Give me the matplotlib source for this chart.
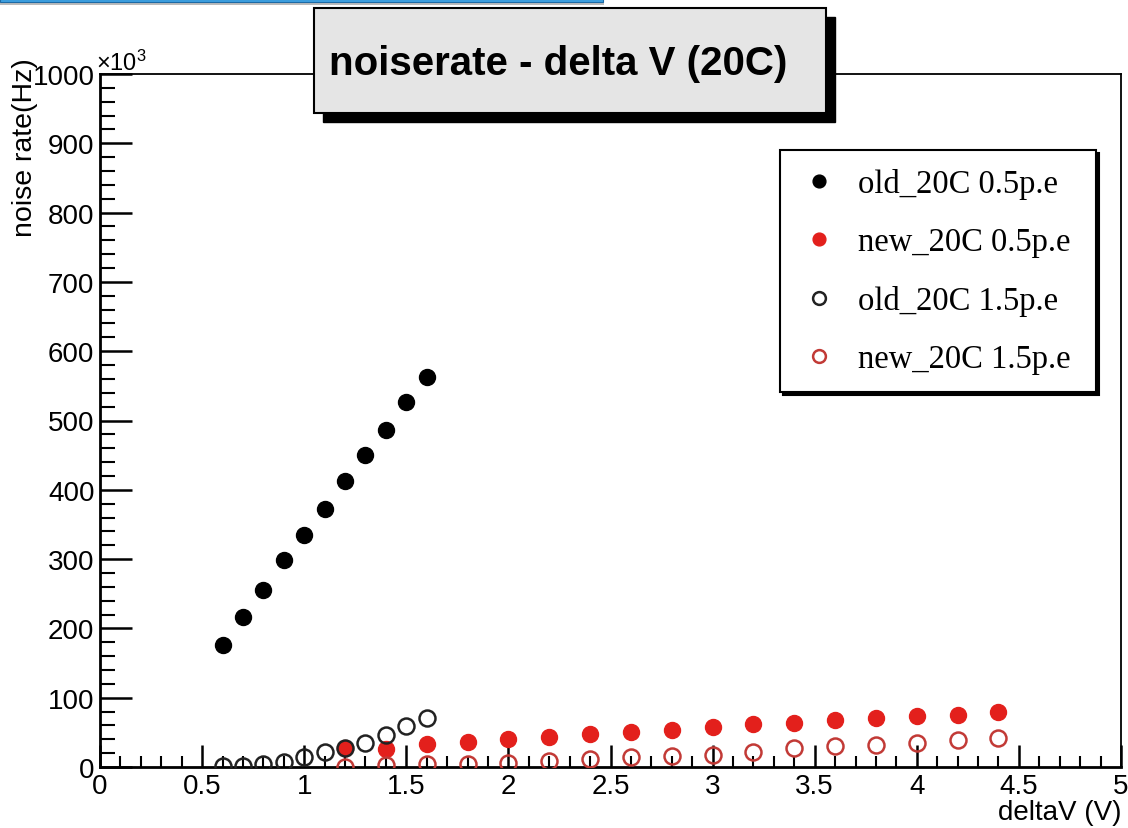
import matplotlib
matplotlib.use("Agg")
import matplotlib.pyplot as plt
from matplotlib.patches import Rectangle
from matplotlib.ticker import MultipleLocator
import numpy as np

# noise rate in units of 10^3 Hz
dv_old = [0.6, 0.7, 0.8, 0.9, 1.0, 1.1, 1.2, 1.3, 1.4, 1.5, 1.6]
old_05 = [176, 216, 256, 298, 335, 372, 412, 450, 486, 526, 563]
old_15 = [1, 2, 4, 7, 14, 21, 28, 35, 46, 59, 71]

dv_new = [1.2, 1.4, 1.6, 1.8, 2.0, 2.2, 2.4, 2.6, 2.8, 3.0, 3.2, 3.4, 3.6, 3.8, 4.0, 4.2, 4.4]
new_05 = [27, 26, 33, 36, 41, 44, 47, 50, 54, 57, 62, 64, 68, 70, 73, 75, 79]
new_15 = [0, 3, 4, 5, 6, 8, 11, 14, 16, 18, 21, 27, 30, 32, 34, 39, 42]

labels = ['old_20C 0.5p.e', 'new_20C 0.5p.e', 'old_20C 1.5p.e', 'new_20C 1.5p.e']
xticklabels = ['0', '0.5', '1', '1.5', '2', '2.5', '3', '3.5', '4', '4.5', '5']
title = 'noiserate - delta V (20C)'

W, H = 1128, 829
RED = '#e3201c'
RED_OPEN = '#c23a36'


def fx(px):
    return px / W


def fy(py):
    return 1 - py / H


fig = plt.figure(figsize=(W / 100, H / 100), dpi=100)
fig.patch.set_facecolor('white')
ax = fig.add_axes([fx(100), fy(768), fx(1121) - fx(100), fy(75) - fy(768)])

l1, = ax.plot(dv_old, old_05, 'o', ms=11.5, color='black', label=labels[0], zorder=3)
l2, = ax.plot(dv_new, new_05, 'o', ms=11.5, color=RED, label=labels[1], zorder=3)
l3, = ax.plot(dv_old, old_15, 'o', ms=11.5, mfc='none', mec='#222222', mew=1.8,
              label=labels[2], zorder=4)
l4, = ax.plot(dv_new, new_15, 'o', ms=11.5, mfc='none', mec=RED_OPEN, mew=1.8,
              label=labels[3], zorder=4)

ax.set_xlim(0, 5)
ax.set_ylim(0, 1000)
ax.xaxis.set_minor_locator(MultipleLocator(0.1))
ax.yaxis.set_major_locator(MultipleLocator(100))
ax.yaxis.set_minor_locator(MultipleLocator(20))
ax.set_xticks(np.arange(0, 5.01, 0.5))
ax.set_xticklabels(xticklabels)

ax.tick_params(axis='both', which='both', direction='in', top=False, right=False)
ax.tick_params(axis='x', which='major', length=16, width=1.8, pad=4)
ax.tick_params(axis='x', which='minor', length=8, width=1.5)
ax.tick_params(axis='y', which='major', length=23, width=1.8, pad=4)
ax.tick_params(axis='y', which='minor', length=11, width=1.5)
for lab in ax.get_xticklabels() + ax.get_yticklabels():
    lab.set_fontfamily('Liberation Sans')
    lab.set_fontsize(20)

ax.spines['left'].set_linewidth(2.0)
ax.spines['bottom'].set_linewidth(2.0)
ax.spines['top'].set_linewidth(1.3)
ax.spines['right'].set_linewidth(1.3)

# axis titles
fig.text(fx(1121), fy(813), 'deltaV (V)', ha='right', va='center',
         family='Liberation Sans', fontsize=20)
fig.text(fx(25), fy(58), 'noise rate(Hz)', rotation=90, ha='center', va='top',
         family='Liberation Sans', fontsize=20.5)
fig.text(fx(96), fy(71), r'$\mathregular{\times10^{3}}$', ha='left', va='baseline',
         family='Liberation Sans', fontsize=17)

# legend
leg = ax.legend(handles=[l1, l2, l3, l4], loc='upper left',
                bbox_to_anchor=(fx(780), fy(151) - 0.4, fx(1096) - fx(780), 0.4),
                bbox_transform=fig.transFigure, mode='expand', borderaxespad=0,
                prop={'family': 'Liberation Serif', 'size': 23.5},
                frameon=True, fancybox=False, edgecolor='black', framealpha=1,
                borderpad=0.55, handlelength=1.3, handletextpad=0.55,
                labelspacing=0.85, markerscale=0.8,
                shadow={'facecolor': 'black', 'edgecolor': 'black', 'alpha': 1})
leg.get_frame().set_linewidth(1.5)

# title box with shadow
bx0, by0, bx1, by1 = 314, 9, 826, 114
fig.add_artist(Rectangle((fx(bx0 + 9), fy(by1 + 9)), fx(bx1 - bx0), fy(by0) - fy(by1),
                         transform=fig.transFigure, facecolor='black',
                         edgecolor='black', zorder=5))
fig.add_artist(Rectangle((fx(bx0), fy(by1)), fx(bx1 - bx0), fy(by0) - fy(by1),
                         transform=fig.transFigure, facecolor='#e5e5e5',
                         edgecolor='black', lw=1.5, zorder=6))
fig.text(fx(329), fy(64), title, ha='left', va='center', family='Liberation Sans',
         fontweight='bold', fontsize=29, zorder=7)

# slide strip at the top left
fig.add_artist(Rectangle((0, fy(6)), fx(604), fy(3) - fy(6), transform=fig.transFigure,
                         facecolor='#bbbbbb', edgecolor='none', zorder=5))
fig.add_artist(Rectangle((0, fy(3)), fx(603), fy(0) - fy(3), transform=fig.transFigure,
                         facecolor='#3d9fe0', edgecolor='#1d6aa5', lw=0.8, zorder=6))

fig.savefig('out.png', dpi=100)
